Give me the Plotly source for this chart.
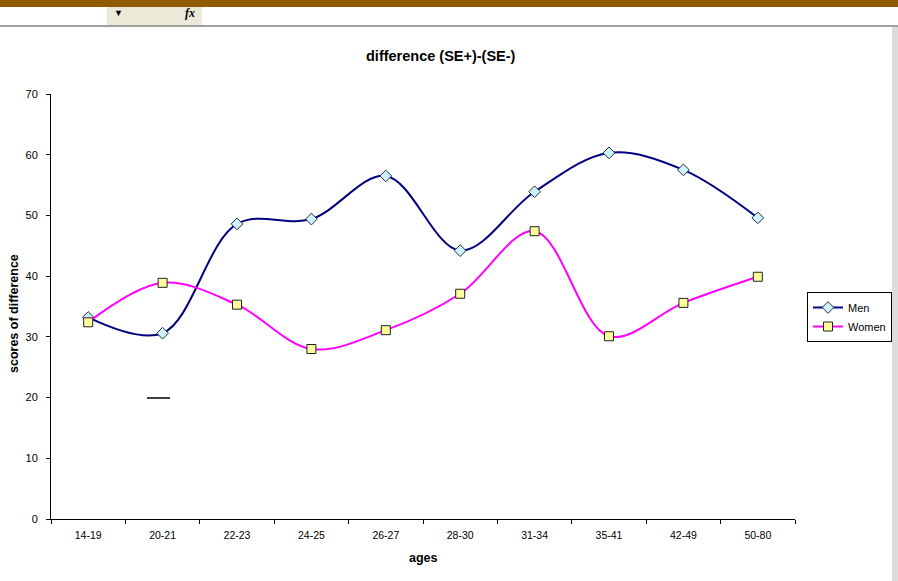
import plotly.graph_objects as go

# Age bands and mean difference scores
ages = ["14-19", "20-21", "22-23", "24-25", "26-27", "28-30", "31-34", "35-41", "42-49", "50-80"]
men = [33.2, 30.6, 48.6, 49.4, 56.5, 44.2, 53.9, 60.3, 57.5, 49.6]
women = [32.4, 38.9, 35.3, 28.0, 31.1, 37.1, 47.4, 30.1, 35.6, 39.9]
y_ticks = [0, 10, 20, 30, 40, 50, 60, 70]

W, H = 898, 581
L, R, T, B = 51, 795, 94, 519  # plot area in pixels


def px(x):
    return (x - L) / (R - L)


def py(y):
    return (B - y) / (B - T)


font = "Liberation Sans, Arial, sans-serif"

fig = go.Figure()
fig.add_trace(go.Scatter(
    x=ages, y=men, name="Men", mode="lines+markers",
    line=dict(color="#000080", width=2, shape="spline", smoothing=1),
    marker=dict(symbol="diamond", size=9, color="#CCF4FA",
                line=dict(color="#2A2A40", width=1)),
))
fig.add_trace(go.Scatter(
    x=ages, y=women, name="Women", mode="lines+markers",
    line=dict(color="#FF00FF", width=2, shape="spline", smoothing=1),
    marker=dict(symbol="square", size=9, color="#FFFF99",
                line=dict(color="#202020", width=1)),
))

shapes = [
    # window chrome above the chart
    dict(type="rect", xref="paper", yref="paper", x0=px(0), x1=px(W), y0=py(7), y1=py(0),
         fillcolor="#8F5A00", line_width=0, layer="above"),
    dict(type="rect", xref="paper", yref="paper", x0=px(107), x1=px(202), y0=py(25), y1=py(7),
         fillcolor="#ECE9D8", line_width=0),
    dict(type="line", xref="paper", yref="paper", x0=px(0), x1=px(W), y0=py(26), y1=py(26),
         line=dict(color="#A0A0A0", width=2)),
    dict(type="rect", xref="paper", yref="paper", x0=px(892), x1=px(W), y0=py(H), y1=py(27),
         fillcolor="#DCDCDC", line_width=0),
    # stray short dash inside the plot
    dict(type="line", xref="paper", yref="paper", x0=px(147), x1=px(170), y0=py(398), y1=py(398),
         line=dict(color="#000000", width=1.5)),
]


def note(text, x, y, size, **kw):
    return dict(text=text, xref="paper", yref="paper", x=px(x), y=py(y),
                xanchor="center", yanchor="middle", showarrow=False,
                font=dict(size=size, color="#000", family=kw.pop("family", font)), **kw)


annotations = [
    note("<b>difference (SE+)-(SE-)</b>", 441, 56, 14.5),
    note("<b>ages</b>", 423, 558, 12.5),
    note("<b>scores of difference</b>", 14, 314, 12.5, textangle=-90),
    note("▼", 118, 13, 9),
    note("<b><i>fx</i></b>", 190, 13, 12, family="Liberation Serif, serif"),
]

fig.update_layout(
    width=W, height=H,
    margin=dict(l=L, r=W - R, t=T, b=H - B, autoexpand=False),
    paper_bgcolor="white", plot_bgcolor="white",
    font=dict(family=font, size=10, color="#000"),
    showlegend=True,
    legend=dict(x=px(807), y=py(292), xanchor="left", yanchor="top",
                bordercolor="#000", borderwidth=1, bgcolor="white",
                font=dict(size=11, color="#000"), tracegroupgap=0, itemwidth=30),
    shapes=shapes, annotations=annotations,
)
fig.update_xaxes(
    type="category", range=[-0.5, len(ages) - 0.5], showgrid=False, zeroline=False,
    showline=True, linecolor="#000", linewidth=1, ticks="outside", ticklen=4,
    tickcolor="#000", tickson="boundaries", tickfont=dict(size=10.5), ticklabelstandoff=6,
)
fig.update_yaxes(
    range=[0, 70], tickvals=y_ticks, showgrid=False, zeroline=False,
    showline=True, linecolor="#000", linewidth=1, ticks="outside", ticklen=4,
    tickcolor="#000", tickfont=dict(size=11), ticklabelstandoff=6,
)

fig.write_html("out.html")
